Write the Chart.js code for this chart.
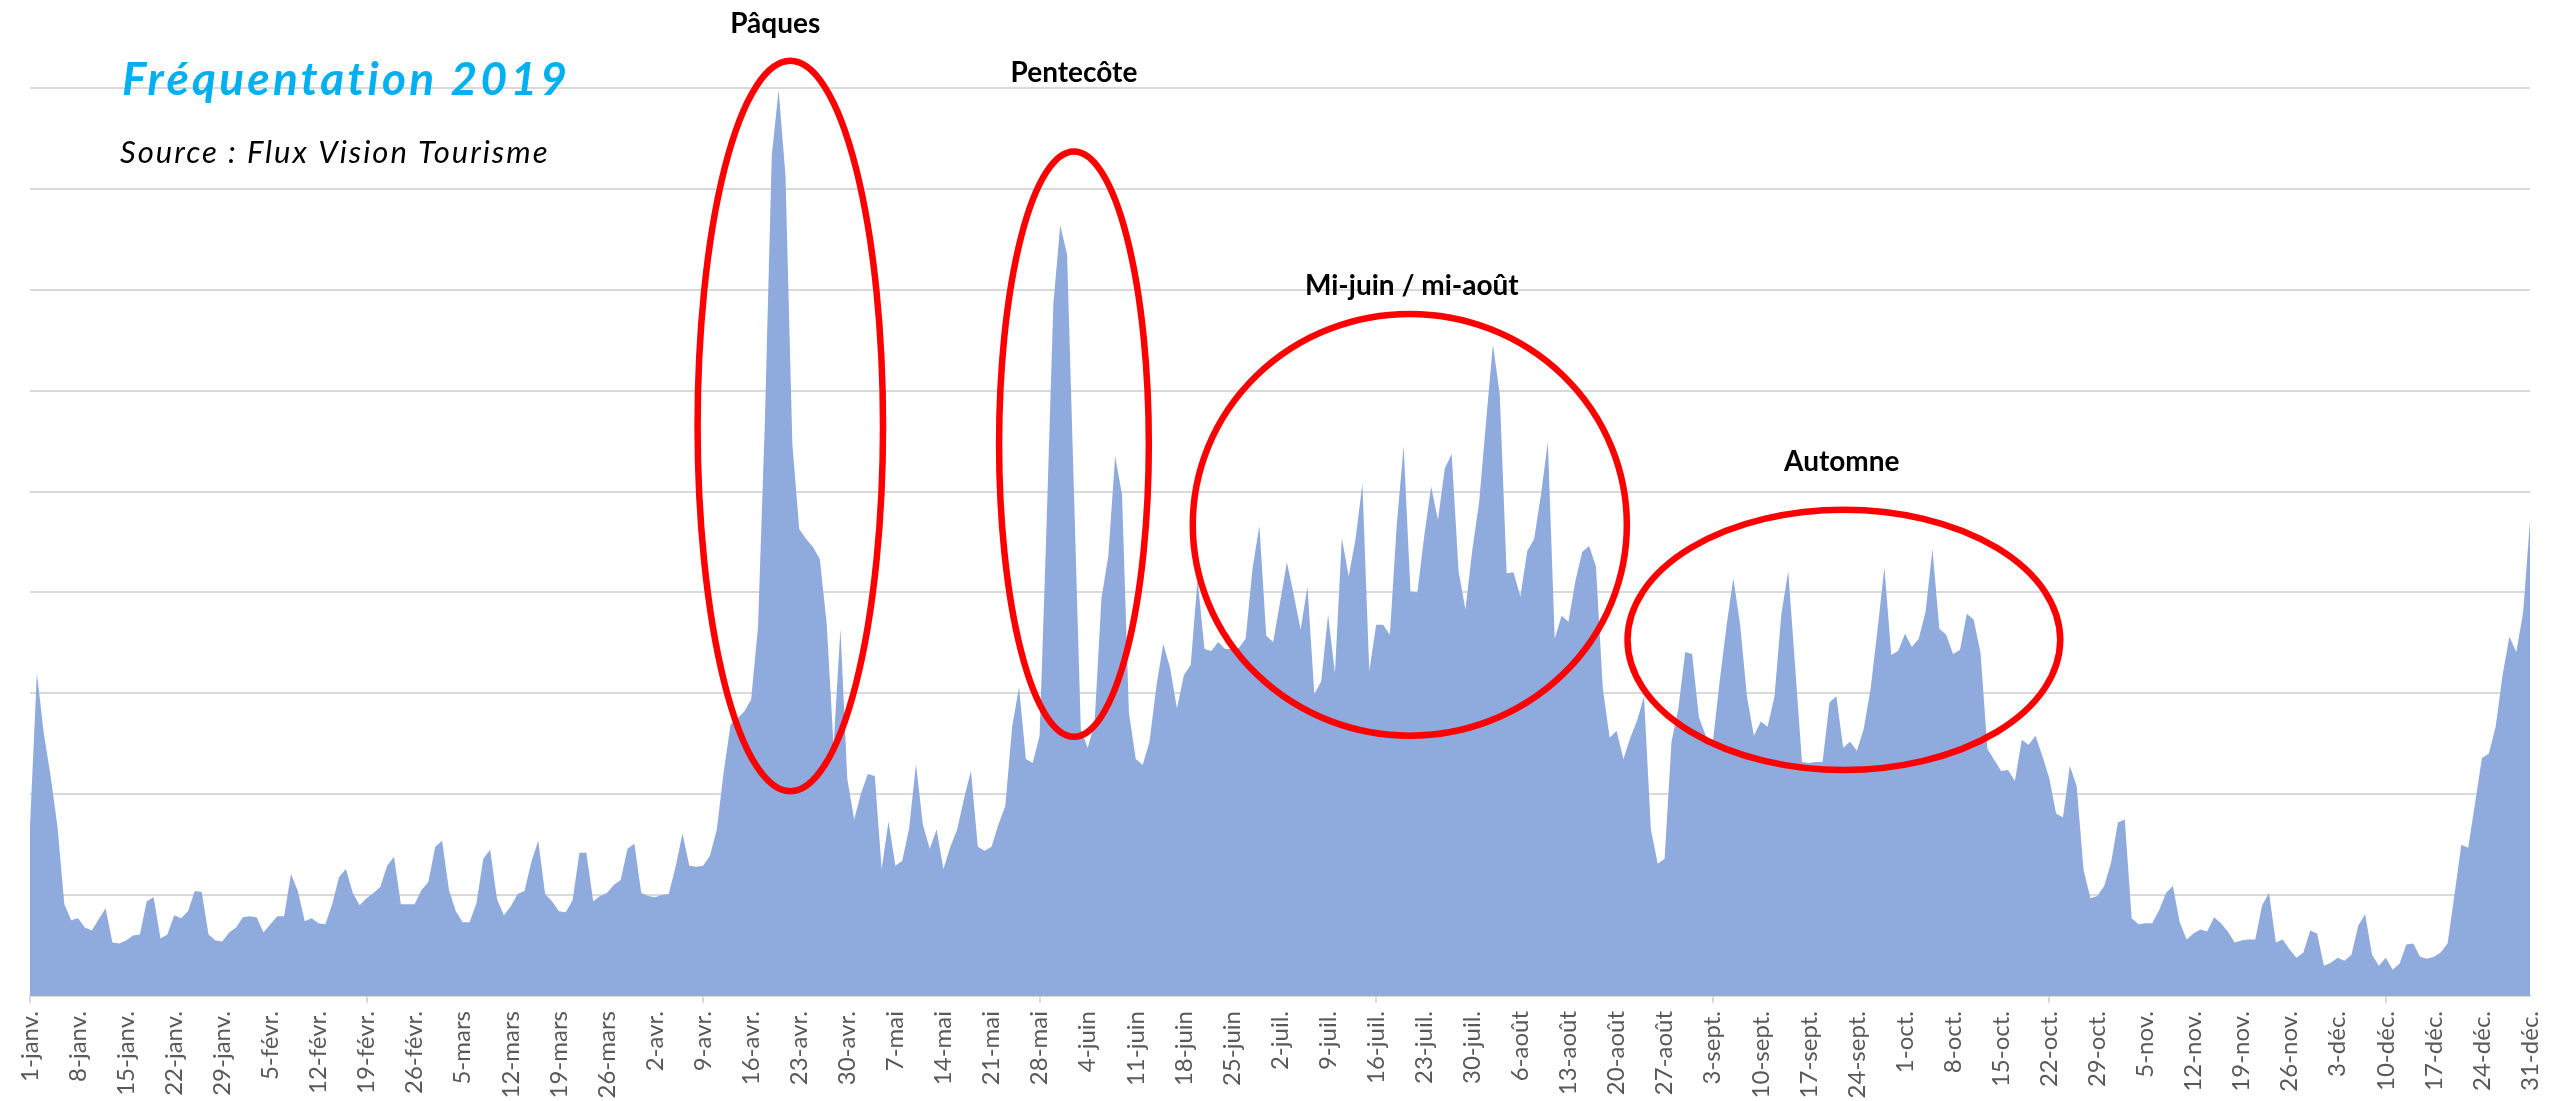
<!DOCTYPE html>
<html lang="fr">
<head>
    <meta charset="UTF-8">
    <title>Fréquentation 2019</title>
    <script src="https://cdn.jsdelivr.net/npm/chart.js"></script>
    <style>
        html, body { margin: 0; padding: 0; background: #fff; }
        #wrap { width: 2552px; height: 1101px; position: relative; }
    </style>
</head>
<body>
    <div id="wrap"><canvas id="chart"></canvas></div>

    <script>
        // daily visitors, one array per month
        const jan = [1680, 3200, 2610, 2180, 1680, 910, 750, 770, 680, 650, 760, 870, 530, 520, 550, 600,
                     610, 940, 980, 570, 610, 800, 770, 840, 1040, 1030, 610, 550, 540, 630, 680];
        const feb = [780, 790, 780, 630, 710, 790, 790, 1210, 1040, 740, 770, 720, 710, 910, 1180, 1260,
                     1020, 900, 970, 1020, 1080, 1290, 1380, 910, 910, 910, 1050, 1130];
        const mar = [1480, 1540, 1050, 840, 730, 730, 920, 1360, 1450, 960, 800, 890, 1010, 1040, 1330, 1540,
                     1010, 940, 840, 830, 950, 1420, 1420, 940, 990, 1020, 1100, 1150, 1460, 1510, 1020];
        const apr = [990, 980, 1000, 1010, 1280, 1610, 1290, 1280, 1290, 1390, 1650, 2220, 2690, 2750, 2820,
                     2940, 3660, 5700, 8330, 8980, 8130, 5470, 4630, 4530, 4450, 4330, 3690, 2480, 3640, 2150];
        const may = [1750, 2010, 2200, 2180, 1260, 1730, 1290, 1340, 1660, 2300, 1700, 1460, 1650, 1260, 1480,
                     1650, 1960, 2230, 1480, 1440, 1480, 1700, 1880, 2670, 3060, 2350, 2310, 2580, 4650, 6860, 7640];
        const jun = [7350, 5000, 2640, 2460, 2700, 3940, 4360, 5350, 4970, 2810, 2350, 2290, 2520, 3070, 3490,
                     3250, 2850, 3180, 3280, 4130, 3440, 3420, 3510, 3440, 3440, 3450, 3540, 4240, 4660, 3570];
        const jul = [3510, 3900, 4300, 3980, 3630, 4060, 2990, 3120, 3780, 3200, 4540, 4160, 4530, 5080, 3220,
                     3680, 3680, 3580, 4670, 5450, 4010, 4000, 4560, 5050, 4720, 5230, 5370, 4210, 3830, 4420, 4900];
        const aug = [5690, 6460, 5960, 4190, 4200, 3960, 4410, 4530, 4970, 5490, 3540, 3770, 3710, 4110, 4400,
                     4460, 4260, 3050, 2560, 2630, 2350, 2560, 2730, 2970, 1650, 1310, 1360, 2520, 2850, 3410, 3390];
        const sep = [2760, 2580, 2500, 3110, 3660, 4140, 3680, 2960, 2580, 2720, 2670, 2970, 3790, 4210, 3270,
                     2320, 2310, 2320, 2320, 2910, 2970, 2460, 2520, 2430, 2650, 3050, 3630, 4250, 3380, 3420];
        const oct = [3590, 3460, 3540, 3810, 4430, 3640, 3580, 3390, 3430, 3790, 3730, 3400, 2450, 2340, 2230,
                     2240, 2130, 2540, 2490, 2580, 2380, 2160, 1810, 1770, 2280, 2080, 1250, 970, 990, 1090, 1320];
        const nov = [1720, 1750, 770, 710, 720, 720, 850, 1020, 1090, 730, 560, 620, 660, 640, 780,
                     720, 640, 530, 550, 560, 560, 900, 1020, 530, 560, 460, 380, 430, 650, 620];
        const dec = [300, 330, 380, 350, 410, 700, 810, 410, 300, 380, 260, 320, 510, 520, 390,
                     370, 390, 430, 520, 1000, 1500, 1470, 1910, 2360, 2400, 2670, 3180, 3560, 3410, 3800, 4710];

        const months = [jan, feb, mar, apr, may, jun, jul, aug, sep, oct, nov, dec];
        const monthNames = ['janv.', 'févr.', 'mars', 'avr.', 'mai', 'juin', 'juil.', 'août', 'sept.', 'oct.', 'nov.', 'déc.'];

        const labels = [];
        months.forEach((days, m) => days.forEach((v, i) => labels.push((i + 1) + '-' + monthNames[m])));
        const visits = [].concat(...months);

        // circled periods: centre (day index, value) and radii (days, value)
        const highlights = [
            { text: 'Pâques',            day: 110.7, value: 5650, rx: 13.5, ry: 3620, textDay: 108.5, textValue: 9545 },
            { text: 'Pentecôte',         day: 152.0, value: 5470, rx: 10.9, ry: 2900, textDay: 152.0, textValue: 9060 },
            { text: 'Mi-juin / mi-août', day: 200.9, value: 4670, rx: 31.6, ry: 2090, textDay: 201.2, textValue: 6950 },
            { text: 'Automne',           day: 264.1, value: 3530, rx: 31.5, ry: 1290, textDay: 263.8, textValue: 5200 }
        ];

        const grey = '#d9d9d9';

        const overlay = {
            id: 'overlay',
            afterDraw(chart) {
                const ctx = chart.ctx;
                const x = chart.scales.x, y = chart.scales.y;
                ctx.save();

                highlights.forEach(h => {
                    const cx = x.getPixelForValue(h.day);
                    const cy = y.getPixelForValue(h.value);
                    const rx = x.getPixelForValue(h.day + h.rx) - cx;
                    const ry = cy - y.getPixelForValue(h.value + h.ry);
                    ctx.beginPath();
                    ctx.ellipse(cx, cy, rx, ry, 0, 0, Math.PI * 2);
                    ctx.strokeStyle = '#ff0000';
                    ctx.lineWidth = 6.5;
                    ctx.stroke();

                    ctx.fillStyle = '#000';
                    ctx.font = 'bold 28px Lato';
                    ctx.textAlign = 'center';
                    ctx.textBaseline = 'alphabetic';
                    ctx.fillText(h.text, x.getPixelForValue(h.textDay), y.getPixelForValue(h.textValue));
                });

                ctx.textAlign = 'left';
                ctx.fillStyle = '#00b0f0';
                ctx.font = 'italic bold 46px Lato';
                ctx.letterSpacing = '3.2px';
                ctx.fillText('Fréquentation 2019', 122, 95);
                ctx.fillStyle = '#000';
                ctx.font = 'italic 31px Lato';
                ctx.letterSpacing = '2px';
                ctx.fillText('Source : Flux Vision Tourisme', 120, 163);
                ctx.restore();
            }
        };

        new Chart(document.getElementById('chart'), {
            type: 'line',
            data: {
                labels: labels,
                datasets: [{
                    data: visits,
                    fill: 'origin',
                    backgroundColor: '#8faadc',
                    borderWidth: 0,
                    pointRadius: 0,
                    tension: 0
                }]
            },
            options: {
                responsive: true,
                maintainAspectRatio: false,
                animation: false,
                layout: { padding: { left: 30, right: 22, top: 88, bottom: 0 } },
                plugins: { legend: { display: false }, tooltip: { enabled: false } },
                scales: {
                    x: {
                        offset: false,
                        afterFit: s => { s.height = 105; s.paddingLeft = 0; s.paddingRight = 0; },
                        border: { display: true, color: grey, width: 2 },
                        grid: {
                            drawOnChartArea: false,
                            drawTicks: true,
                            tickLength: 7,
                            lineWidth: 2,
                            color: c => c.index % 7 === 0 ? grey : 'rgba(0,0,0,0)',
                            tickColor: c => c.index % 7 === 0 ? grey : 'rgba(0,0,0,0)'
                        },
                        ticks: {
                            autoSkip: false,
                            minRotation: 90,
                            maxRotation: 90,
                            padding: 8,
                            color: '#595959',
                            font: { family: 'Lato', size: 24 },
                            callback: (v, i) => i % 7 === 0 ? labels[i] : null
                        }
                    },
                    y: {
                        min: 0,
                        max: 9000,
                        afterFit: s => { s.width = 0; },
                        border: { display: false },
                        grid: { color: grey, lineWidth: 2, drawTicks: false },
                        ticks: { display: false, stepSize: 1000 }
                    }
                }
            },
            plugins: [overlay]
        });
    </script>
</body>
</html>
